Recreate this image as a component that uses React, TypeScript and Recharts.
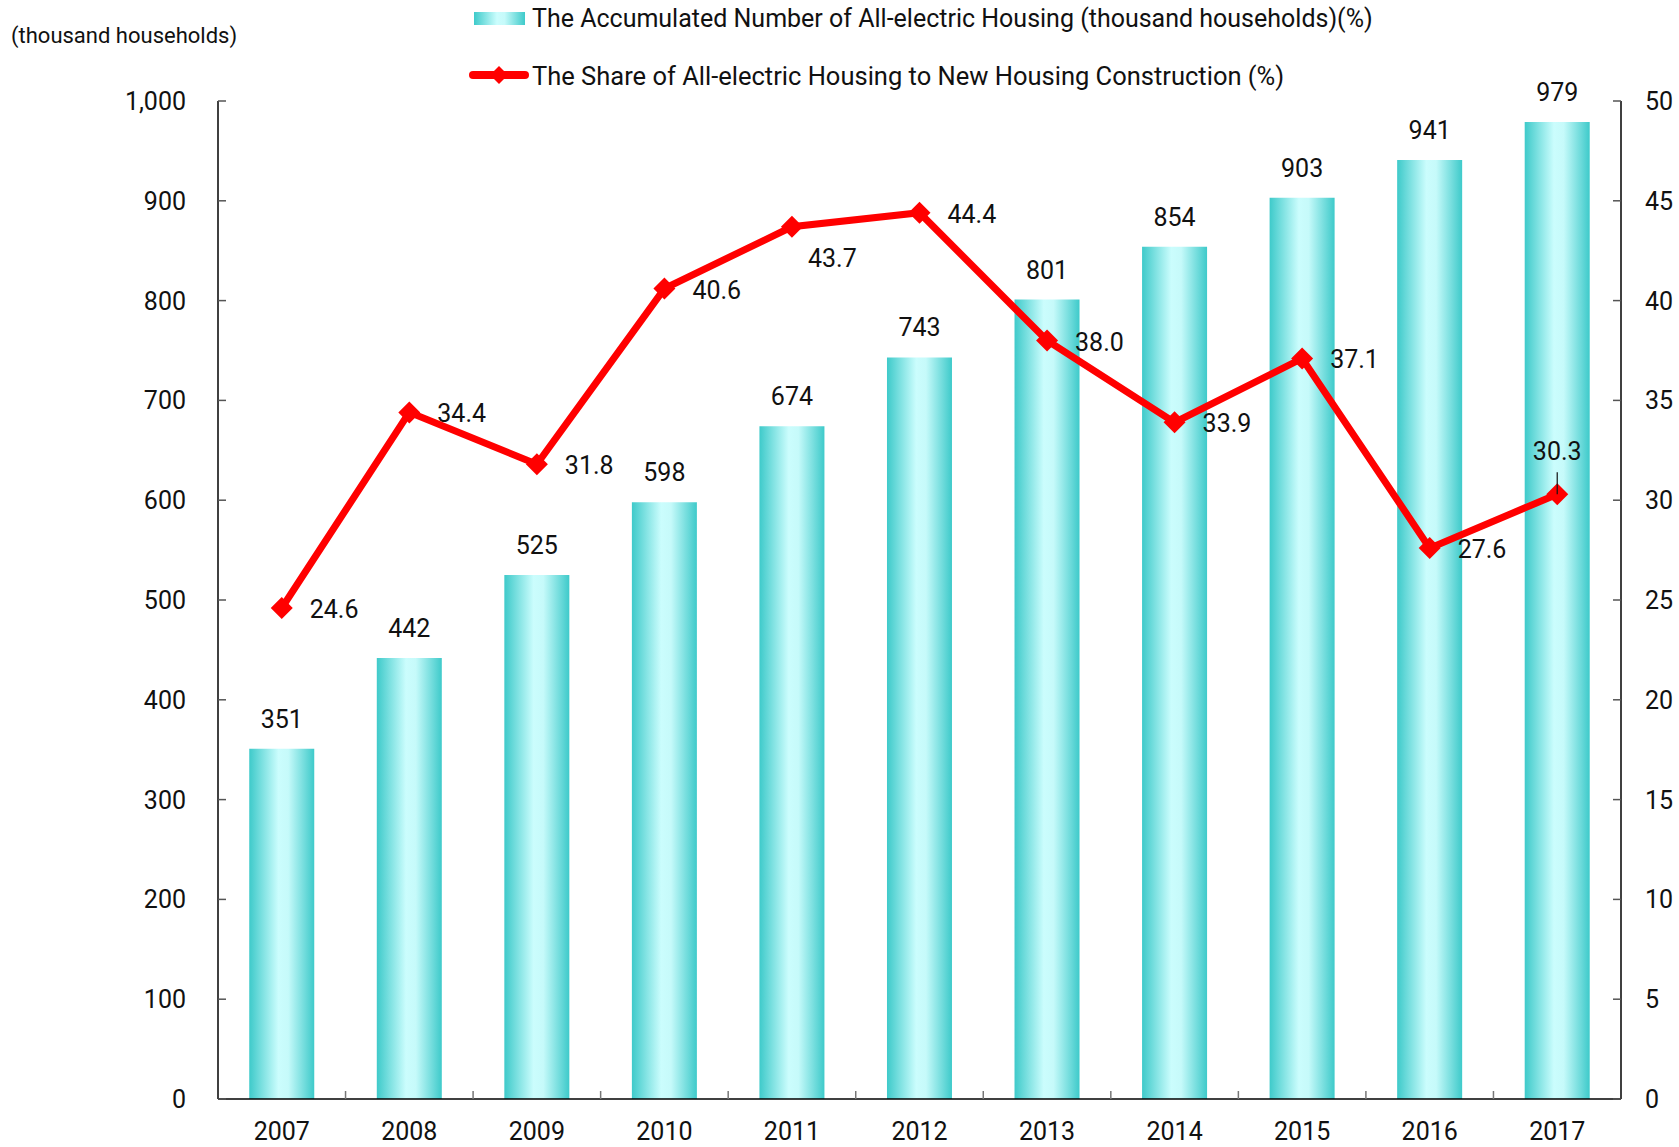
import { ComposedChart, Bar, Line, XAxis, YAxis, LabelList } from "recharts";

const years = ["2007", "2008", "2009", "2010", "2011", "2012", "2013", "2014", "2015", "2016", "2017"];
const households = [351, 442, 525, 598, 674, 743, 801, 854, 903, 941, 979];
const shares = [24.6, 34.4, 31.8, 40.6, 43.7, 44.4, 38.0, 33.9, 37.1, 27.6, 30.3];
const leftTicks = [0, 100, 200, 300, 400, 500, 600, 700, 800, 900, 1000];
const rightTicks = [0, 5, 10, 15, 20, 25, 30, 35, 40, 45, 50];

const BAR_NAME = "The Accumulated Number of All-electric Housing (thousand households)(%)";
const LINE_NAME = "The Share of All-electric Housing to New Housing Construction (%)";

const FONT = "Roboto, 'Liberation Sans', sans-serif";
const W = 1679, H = 1147;
const PLOT_L = 218, PLOT_R = 1621;
const HALF_BAND = (PLOT_R - PLOT_L) / years.length / 2;

const data = years.map((y, i) => ({ year: y, households: households[i], share: shares[i] }));

const LeftTick = (p: any) => (
  <g>
    <line x1={p.x} x2={p.x + 8} y1={p.y} y2={p.y} stroke="#555" strokeWidth={1.5} />
    <text x={p.x - 32} y={p.y} dy="0.36em" textAnchor="end" fontSize={25} fill="#111" fontFamily={FONT}>
      {Number(p.payload.value).toLocaleString("en-US")}
    </text>
  </g>
);

const RightTick = (p: any) => (
  <g>
    <line x1={p.x} x2={p.x - 8} y1={p.y} y2={p.y} stroke="#555" strokeWidth={1.5} />
    <text x={p.x + 24} y={p.y} dy="0.36em" textAnchor="start" fontSize={25} fill="#111" fontFamily={FONT}>
      {p.payload.value}
    </text>
  </g>
);

const BottomTick = (p: any) => (
  <g>
    {p.index < years.length - 1 && (
      <line x1={p.x + HALF_BAND} x2={p.x + HALF_BAND} y1={p.y} y2={p.y - 8} stroke="#777" strokeWidth={1.5} />
    )}
    <text x={p.x} y={p.y + 32} dy="0.36em" textAnchor="middle" fontSize={25} fill="#111" fontFamily={FONT}>
      {p.payload.value}
    </text>
  </g>
);

const Diamond = (p: any) => {
  const { cx, cy } = p;
  if (cx == null || cy == null) return null;
  const r = 11;
  return <polygon points={`${cx},${cy - r} ${cx + r},${cy} ${cx},${cy + r} ${cx - r},${cy}`} fill="#ff0000" />;
};

const ShareLabel = (p: any) => {
  const { x, y, value, index } = p;
  const txt = Number(value).toFixed(1);
  if (index === years.length - 1) {
    return (
      <g>
        <line x1={x} x2={x} y1={y - 22} y2={y} stroke="#111" strokeWidth={1.2} />
        <text x={x} y={y - 43} dy="0.36em" textAnchor="middle" fontSize={25} fill="#111" fontFamily={FONT}>{txt}</text>
      </g>
    );
  }
  const dx = index === 4 ? 16 : 28;
  const dy = index === 4 ? 31 : 1;
  return (
    <text x={x + dx} y={y + dy} dy="0.36em" textAnchor="start" fontSize={25} fill="#111" fontFamily={FONT}>{txt}</text>
  );
};

export default function App() {
  return (
    <div style={{ position: "absolute", left: 0, top: 0, width: W, height: H, background: "#fff", fontFamily: FONT }}>
      <div style={{ position: "absolute", left: 11, top: 23, fontSize: 22, color: "#111", whiteSpace: "nowrap" }}>
        (thousand households)
      </div>
      <svg style={{ position: "absolute", left: 0, top: 0 }} width={W} height={110}>
        <defs>
          <linearGradient id="legGrad" x1="0" y1="0" x2="1" y2="0">
            <stop offset="0" stopColor="#3ecaca" />
            <stop offset="0.45" stopColor="#cbfdfd" />
            <stop offset="0.6" stopColor="#c6fafa" />
            <stop offset="1" stopColor="#3ecaca" />
          </linearGradient>
        </defs>
        <rect x={474} y={12} width={51} height={13} fill="url(#legGrad)" />
        <text x={532} y={18} dy="0.36em" fontSize={25} fill="#111" fontFamily={FONT}>{BAR_NAME}</text>
        <line x1={473} x2={525} y1={75} y2={75} stroke="#ff0000" strokeWidth={8} strokeLinecap="round" />
        <polygon points="499,66 508,75 499,84 490,75" fill="#ff0000" />
        <text x={532} y={76} dy="0.36em" fontSize={25.5} fill="#111" fontFamily={FONT}>{LINE_NAME}</text>
      </svg>
      <ComposedChart
        width={W}
        height={H}
        data={data}
        margin={{ top: 101, right: 0, bottom: 8, left: 0 }}
        barCategoryGap="24.5%"
        style={{ position: "absolute", left: 0, top: 0 }}
      >
        <defs>
          <linearGradient id="barGrad" x1="0" y1="0" x2="1" y2="0">
            <stop offset="0" stopColor="#3ecaca" />
            <stop offset="0.45" stopColor="#cbfdfd" />
            <stop offset="0.6" stopColor="#c6fafa" />
            <stop offset="1" stopColor="#3ecaca" />
          </linearGradient>
        </defs>
        <XAxis
          dataKey="year"
          height={40}
          tickSize={0}
          tickMargin={0}
          axisLine={{ stroke: "#000", strokeWidth: 1.5 }}
          tickLine={false}
          tick={<BottomTick />}
          interval={0}
        />
        <YAxis
          yAxisId="left"
          width={218}
          domain={[0, 1000]}
          ticks={leftTicks}
          tickSize={0}
          tickMargin={0}
          tickLine={false}
          axisLine={{ stroke: "#000", strokeWidth: 1.5 }}
          tick={<LeftTick />}
          interval={0}
        />
        <YAxis
          yAxisId="right"
          orientation="right"
          width={58}
          domain={[0, 50]}
          ticks={rightTicks}
          tickSize={0}
          tickMargin={0}
          tickLine={false}
          axisLine={{ stroke: "#000", strokeWidth: 1.5 }}
          tick={<RightTick />}
          interval={0}
        />
        <Bar yAxisId="left" dataKey="households" name={BAR_NAME} fill="url(#barGrad)" isAnimationActive={false}>
          <LabelList dataKey="households" position="top" offset={21} fontSize={25} fill="#111" fontFamily={FONT} />
        </Bar>
        <Line
          yAxisId="right"
          dataKey="share"
          name={LINE_NAME}
          type="linear"
          stroke="#ff0000"
          strokeWidth={7}
          dot={<Diamond />}
          activeDot={false}
          isAnimationActive={false}
        >
          <LabelList dataKey="share" content={<ShareLabel />} />
        </Line>
      </ComposedChart>
    </div>
  );
}
